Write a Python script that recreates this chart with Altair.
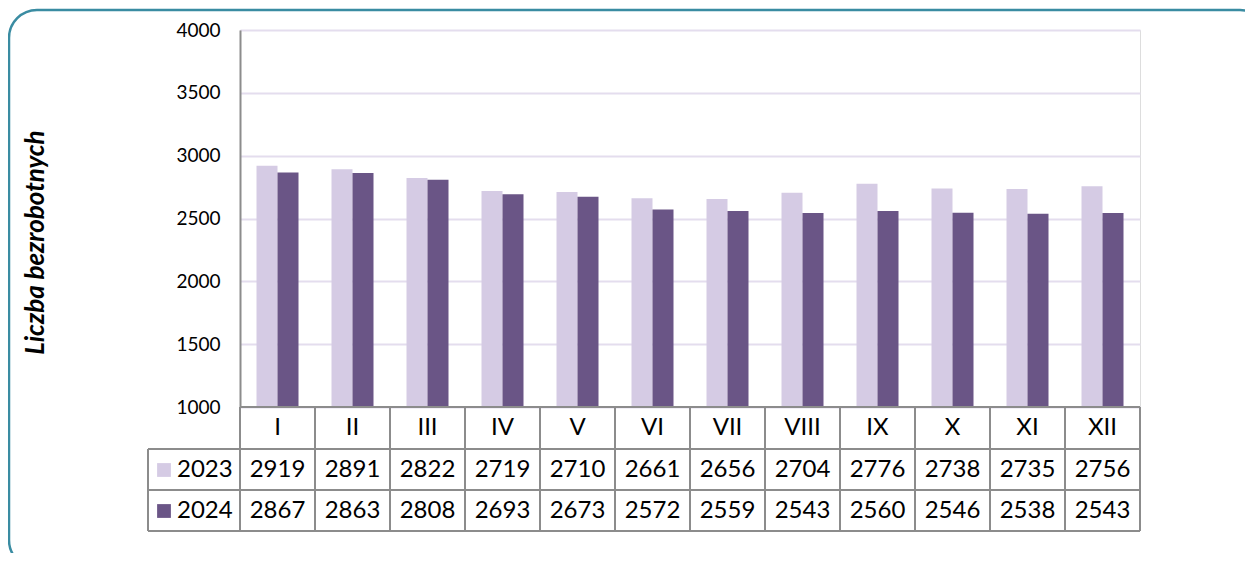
import altair as alt
import pandas as pd

months = ["I", "II", "III", "IV", "V", "VI", "VII", "VIII", "IX", "X", "XI", "XII"]
years = ["2023", "2024"]
values_2023 = [2919, 2891, 2822, 2719, 2710, 2661, 2656, 2704, 2776, 2738, 2735, 2756]
values_2024 = [2867, 2863, 2808, 2693, 2673, 2572, 2559, 2543, 2560, 2546, 2538, 2543]
y_ticks = [1000, 1500, 2000, 2500, 3000, 3500, 4000]

LIGHT = "#D5CBE4"
DARK = "#6A5586"
GRID = "#E4DDEE"
LINE = "#8C8C8C"
BORDER = "#3A8CA2"
FONT = "Lato"

W, H = 900, 377

rows = []
for m, a, b in zip(months, values_2023, values_2024):
    rows.append({"month": m, "year": "2023", "value": a})
    rows.append({"month": m, "year": "2024", "value": b})
df = pd.DataFrame(rows)
df_m = pd.DataFrame({"month": months, "v2023": values_2023, "v2024": values_2024})
one = pd.DataFrame({"a": [0]})

x_bar = alt.X("month:N", sort=months, axis=None,
              scale=alt.Scale(type="band", paddingInner=0.44, paddingOuter=0.22))
x_tab = alt.X("month:N", sort=months, axis=None, bandPosition=0.5,
              scale=alt.Scale(type="band", paddingInner=0, paddingOuter=0))
x_tab_edge = alt.X("month:N", sort=months, axis=None, bandPosition=0,
                   scale=alt.Scale(type="band", paddingInner=0, paddingOuter=0))

border = alt.Chart(one).mark_rect(
    fill=None, stroke=BORDER, strokeWidth=2.5, cornerRadius=28
).encode(x=alt.value(-231), x2=alt.value(1028), y=alt.value(-20), y2=alt.value(538))

bars = alt.Chart(df).mark_bar().encode(
    x=x_bar,
    xOffset=alt.XOffset("year:N", sort=years, scale=alt.Scale(paddingInner=0, paddingOuter=0)),
    y=alt.Y("value:Q",
            scale=alt.Scale(domain=[1000, 4000], zero=False, nice=False),
            axis=alt.Axis(values=y_ticks, format="d", title="Liczba bezrobotnych", grid=True,
                          gridColor=GRID, gridWidth=2, ticks=False,
                          domainColor=LINE, domainWidth=2, labelFont=FONT,
                          labelFontSize=19, labelColor="#000000", labelPadding=20,
                          titleFont=FONT, titleFontSize=26, titleFontWeight="bold",
                          titleFontStyle="italic", titleColor="#000000",
                          titleAngle=-90, titleX=-205, titleY=212,
                          titleAlign="center", titleBaseline="middle")),
    y2=alt.datum(1000),
    color=alt.Color("year:N", sort=years,
                    scale=alt.Scale(domain=years, range=[LIGHT, DARK]), legend=None),
)

# table lines
hline_axis = alt.Chart(one).mark_rule(color=LINE, strokeWidth=2).encode(
    x=alt.value(0), x2=alt.value(W), y=alt.value(H))
hlines = [alt.Chart(one).mark_rule(color=LINE, strokeWidth=2).encode(
    x=alt.value(-92), x2=alt.value(W), y=alt.value(yv)) for yv in (419, 460, 501)]
vlines = alt.Chart(df_m).mark_rule(color=LINE, strokeWidth=2).encode(
    x=x_tab_edge, y=alt.value(H), y2=alt.value(501))
vline_end = alt.Chart(one).mark_rule(color=LINE, strokeWidth=2).encode(
    x=alt.value(W), y=alt.value(H), y2=alt.value(501))
vline_left = alt.Chart(one).mark_rule(color=LINE, strokeWidth=2).encode(
    x=alt.value(-92), y=alt.value(419), y2=alt.value(501))

FS = 24
txt_kw = dict(font=FONT, fontSize=FS, color="#000000", baseline="middle", align="center")
head_txt = alt.Chart(df_m).mark_text(**txt_kw).encode(
    x=x_tab, y=alt.value(398), text="month:N")
t2023 = alt.Chart(df_m).mark_text(**txt_kw).encode(
    x=x_tab, y=alt.value(440), text="v2023:Q")
t2024 = alt.Chart(df_m).mark_text(**txt_kw).encode(
    x=x_tab, y=alt.value(481), text="v2024:Q")

sq1 = alt.Chart(one).mark_square(size=190, opacity=1, color=LIGHT).encode(
    x=alt.value(-76), y=alt.value(440))
sq2 = alt.Chart(one).mark_square(size=190, opacity=1, color=DARK).encode(
    x=alt.value(-76), y=alt.value(481))
lab1 = alt.Chart(one).mark_text(font=FONT, fontSize=FS, color="#000000",
                                baseline="middle", align="left", text=years[0]).encode(
    x=alt.value(-63), y=alt.value(440))
lab2 = alt.Chart(one).mark_text(font=FONT, fontSize=FS, color="#000000",
                                baseline="middle", align="left", text=years[1]).encode(
    x=alt.value(-63), y=alt.value(481))

chart = alt.layer(
    border, bars, hline_axis, *hlines, vlines, vline_end, vline_left,
    head_txt, t2023, t2024, sq1, sq2, lab1, lab2
).resolve_scale(x="independent").properties(
    width=W, height=H,
    autosize=alt.AutoSizeParams(type="none"),
    padding={"left": 232, "top": 22, "right": 105, "bottom": 146},
).configure_view(stroke=None).configure(background="#ffffff")

chart.save("out.html", embed_options={"renderer": "svg", "actions": False})
